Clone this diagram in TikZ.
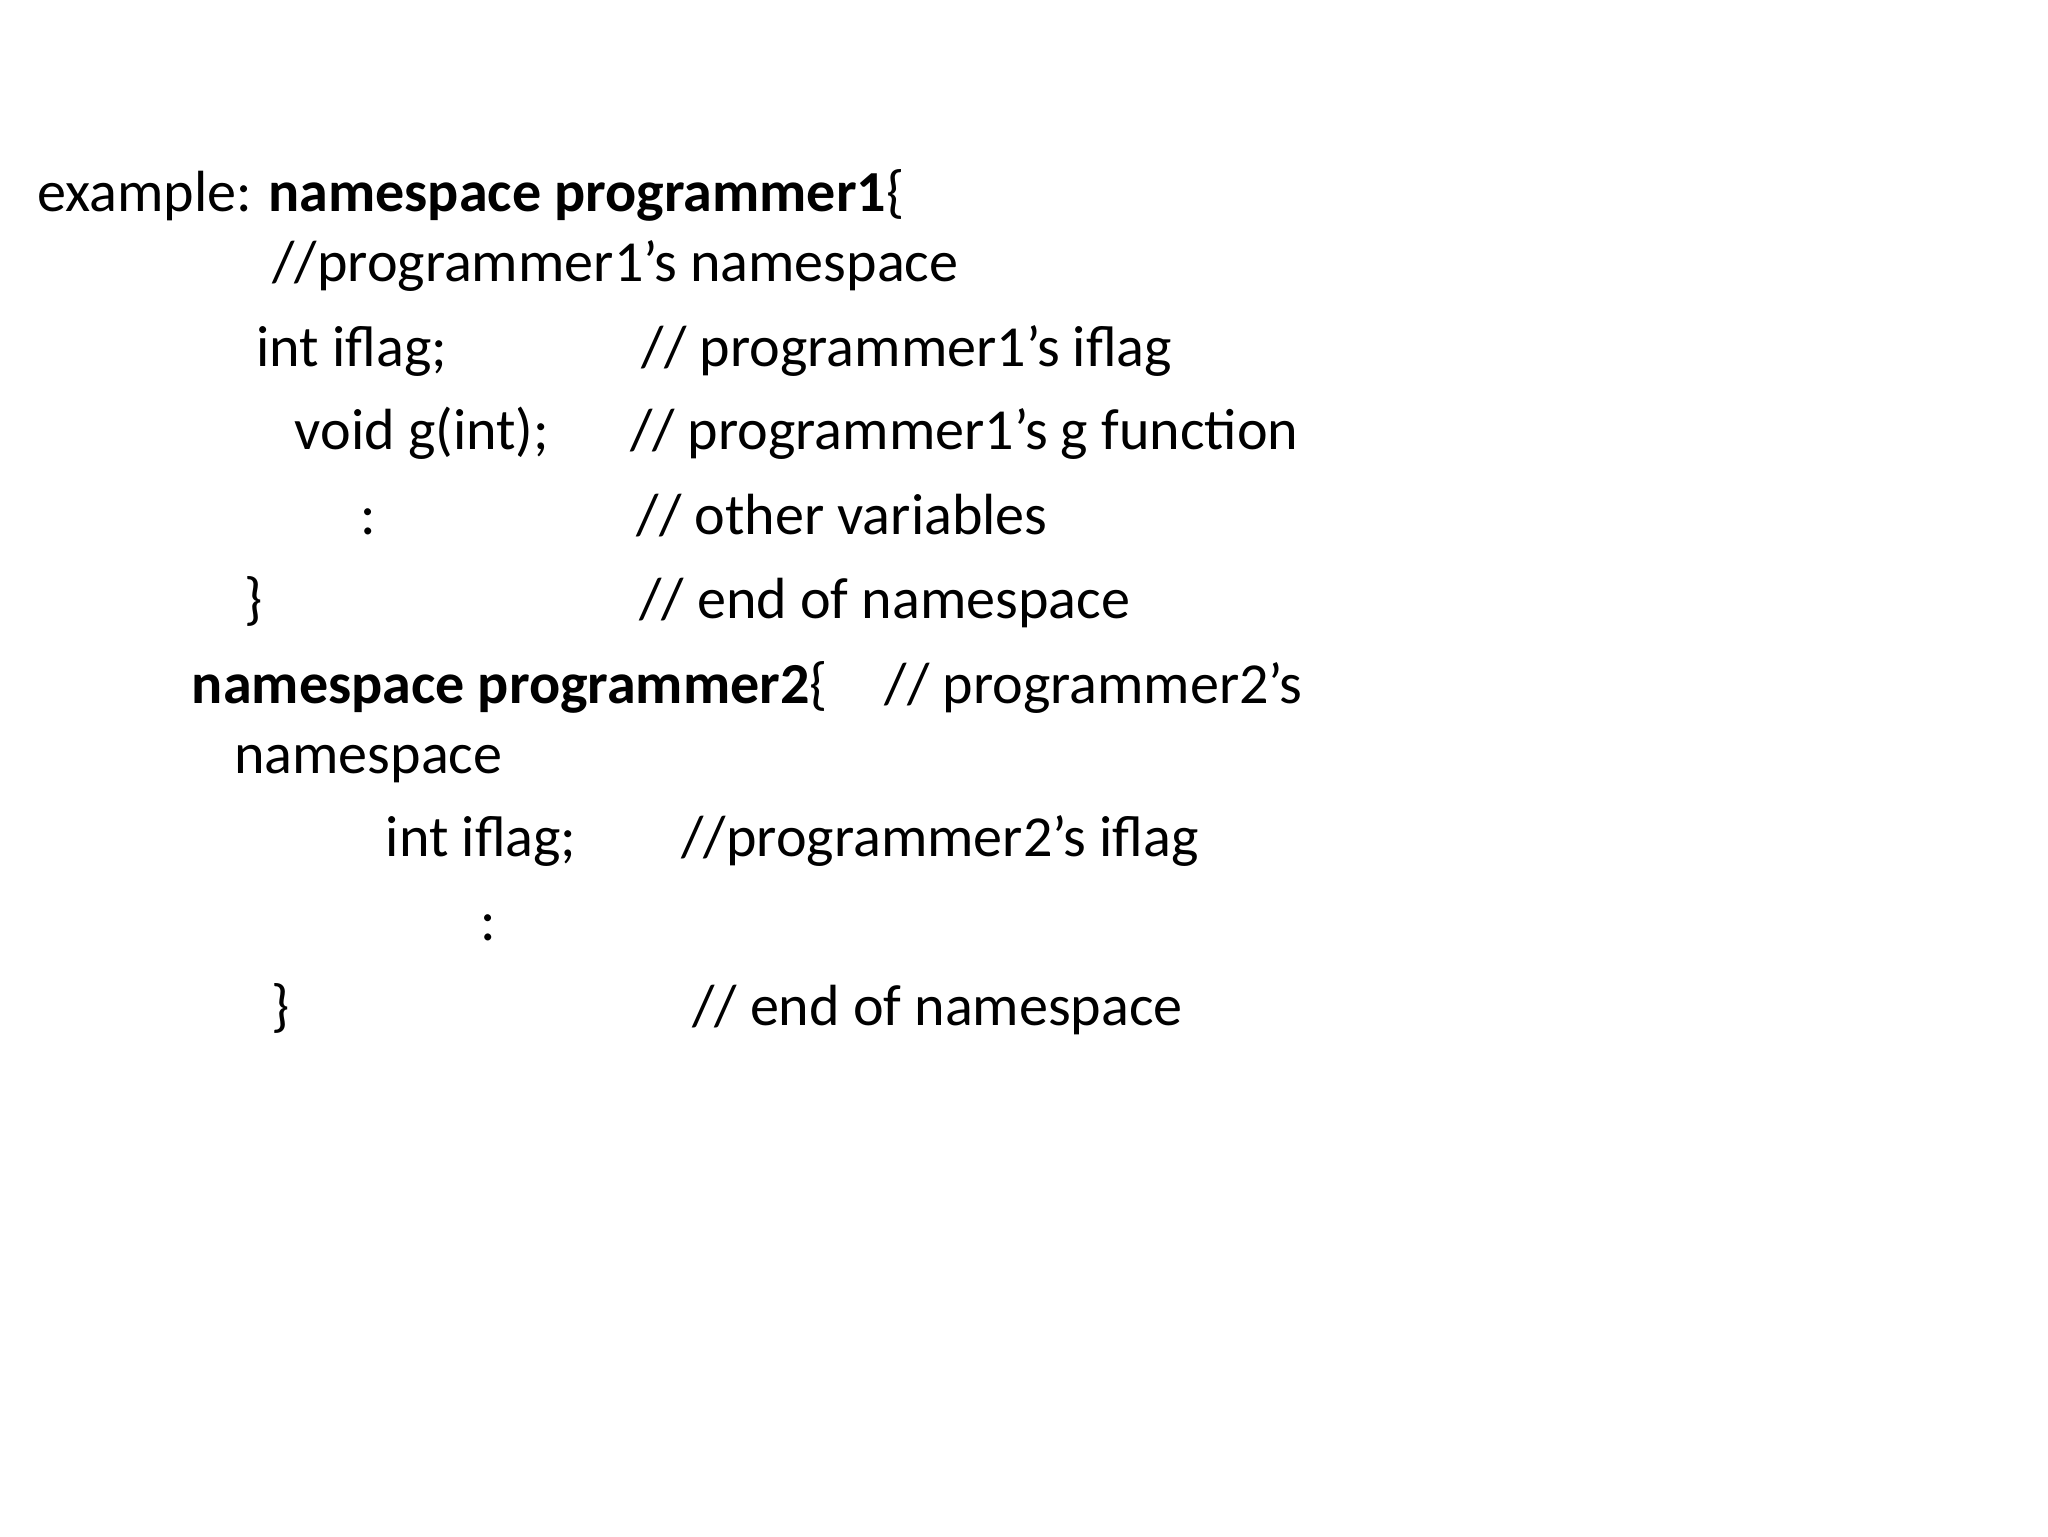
\documentclass[tikz,border=0pt]{standalone}
\usepackage{fontspec}
\setmainfont{Carlito}
\usepackage{tikz}
\usetikzlibrary{positioning}

\begin{document}
\begin{tikzpicture}[x=0.4657pt,y=-0.4657pt,
    code/.style={anchor=base west,inner sep=0pt,font=\fontsize{20.5}{25}\selectfont}]
      \useasboundingbox[fill=white] (0,0) rectangle (1552,1164);

      % first namespace
      \node[code] (ex)    at (28,160)  {example:};
      \node[code] (ns1)   at (203,160) {\textbf{namespace programmer1}\{};
      \node[code] (ns1c)  at (206,213) {//programmer1’s namespace};
      \node[code] (var1)  at (194,278) {int iflag;};
      \node[code] (var1c) at (486,278) {// programmer1’s iflag};
      \node[code] (fun1)  at (223,341) {void g(int);};
      \node[code] (fun1c) at (477,341) {// programmer1’s g function};
      \node[code] (dot1)  at (273,405) {:};
      \node[code] (dot1c) at (482,405) {// other variables};
      \node[code] (end1)  at (185,469) {\}};
      \node[code] (end1c) at (484,469) {// end of namespace};

      % second namespace
      \node[code] (ns2)   at (145,533) {\textbf{namespace programmer2}\{};
      \node[code] (ns2c)  at (670,533) {// programmer2’s};
      \node[code] (ns2d)  at (177,586) {namespace};
      \node[code] (var2)  at (292,649) {int iflag;};
      \node[code] (var2c) at (516,649) {//programmer2’s iflag};
      \node[code] (dot2)  at (364,713) {:};
      \node[code] (end2)  at (205,777) {\}};
      \node[code] (end2c) at (524,777) {// end of namespace};

\end{tikzpicture}
\end{document}
